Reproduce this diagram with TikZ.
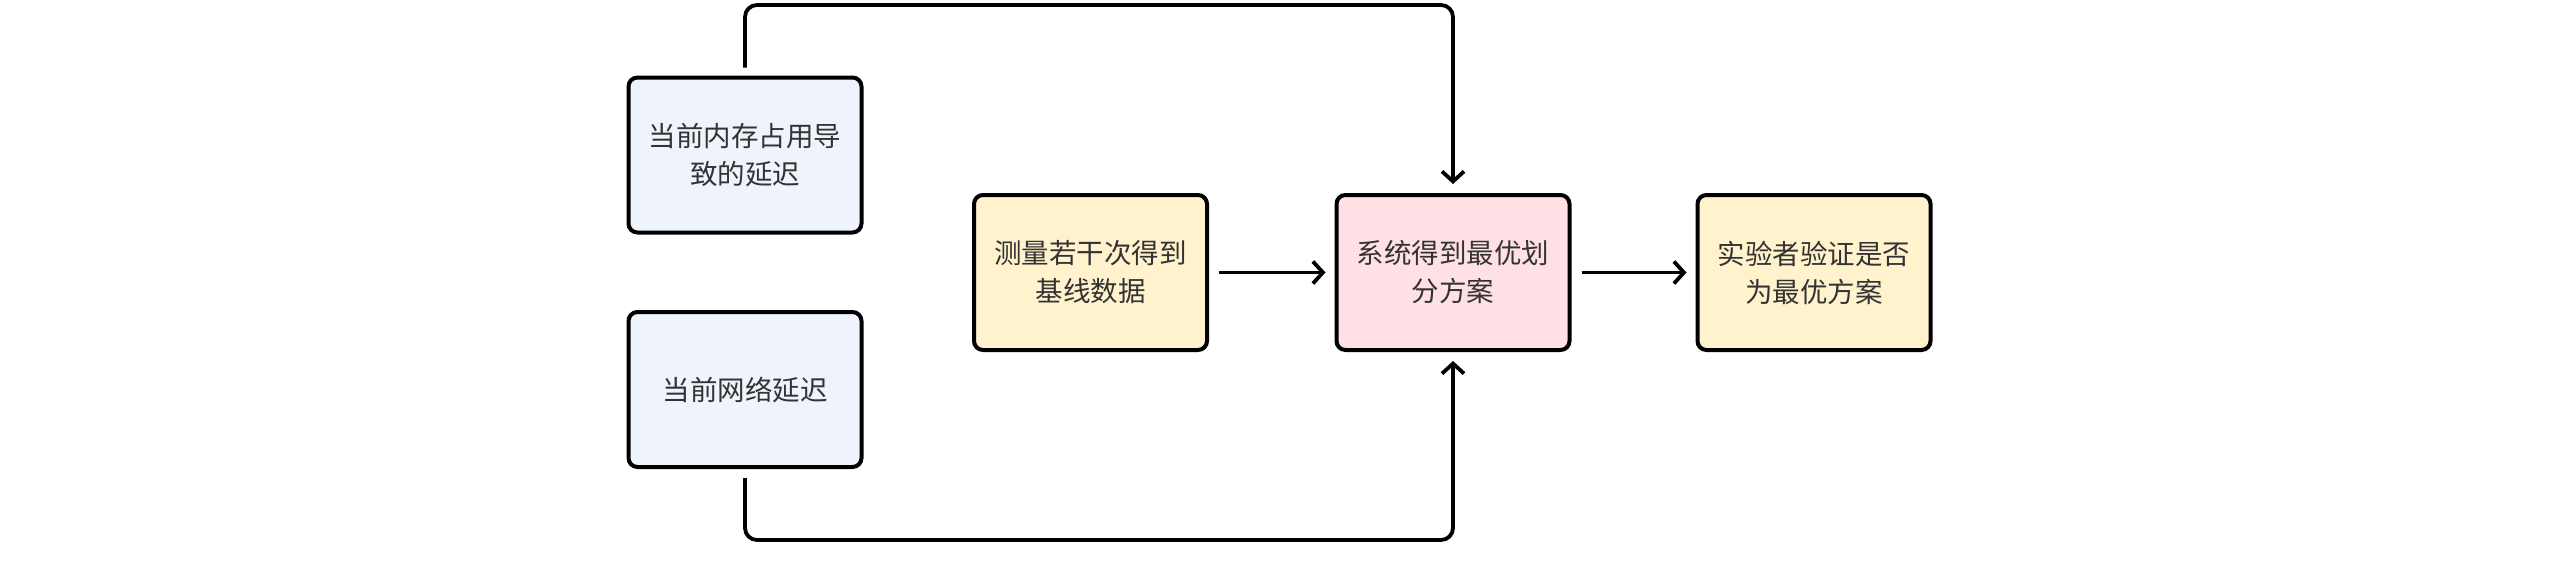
\documentclass[tikz,border=0pt]{standalone}
\usepackage{fontspec}
\newfontfamily\cjk{Noto Sans CJK SC}
\usetikzlibrary{arrows.meta}
\definecolor{bluefill}{HTML}{EEF3FC}
\definecolor{yellowfill}{HTML}{FFF2CC}
\definecolor{pinkfill}{HTML}{FFE1E5}
\begin{document}
\begin{tikzpicture}[x=1pt,y=-1pt,
  box/.style={draw=black, line width=4pt, rounded corners=9pt, minimum width=233pt, minimum height=155pt, align=center, font=\cjk\fontsize{27.5}{38}\selectfont, text=black!80, inner sep=0pt},
  conn/.style={line width=3.8pt, -{Straight Barb[length=10pt,width=22pt]}, rounded corners=12pt}]
\useasboundingbox (0,0) rectangle (2560,568);
\node[box, fill=bluefill] (A) at (745,155) {当前内存占用导\\致的延迟};
\node[box, fill=bluefill] (B) at (745,389.5) {当前网络延迟};
\node[box, fill=yellowfill] (C) at (1090.5,272.5) {测量若干次得到\\基线数据};
\node[box, fill=pinkfill] (D) at (1453,272.5) {系统得到最优划\\分方案};
\node[box, fill=yellowfill] (E) at (1814,272.5) {实验者验证是否\\为最优方案};
\coordinate (top) at (1000,5);
\coordinate (bot) at (1000,540);
\draw[conn] ([yshift=8pt]A.north) -- (A.north |- top) -- (D.north |- top) -- ([yshift=9pt]D.north);
\draw[conn] ([yshift=-9pt]B.south) -- (B.south |- bot) -- (D.south |- bot) -- ([yshift=-9pt]D.south);
\draw[conn] ([xshift=10pt]C.east) -- ([xshift=-9pt]D.west);
\draw[conn] ([xshift=10pt]D.east) -- ([xshift=-9pt]E.west);
\end{tikzpicture}
\end{document}
